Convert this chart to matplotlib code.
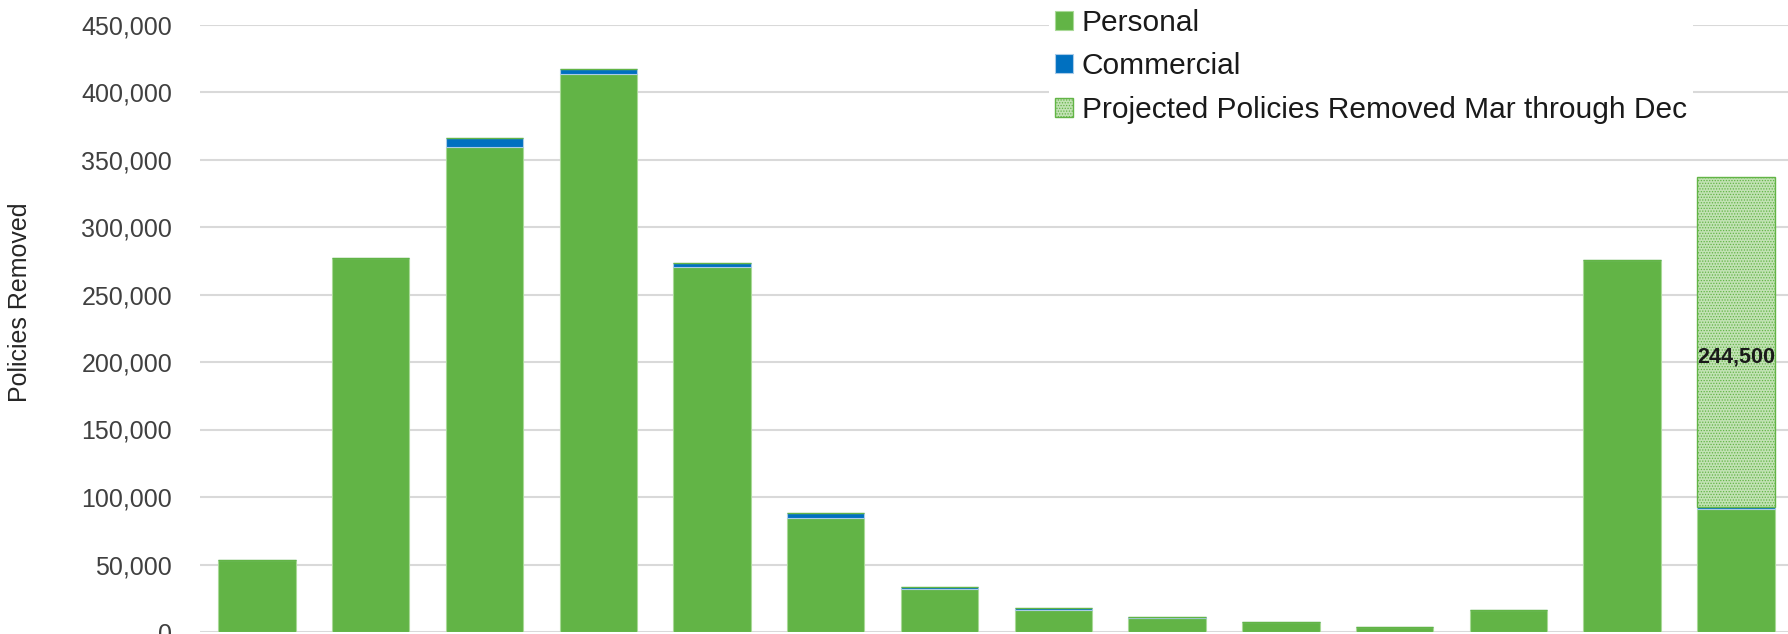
import matplotlib.pyplot as plt
import numpy as np
from matplotlib.ticker import FuncFormatter

plt.rcParams['font.family'] = ['Liberation Sans', 'DejaVu Sans']
plt.rcParams['hatch.linewidth'] = 0.6

# Values (x labels are cropped out of the reference)
personal = [53000, 276800, 359200, 413100, 270100, 84400, 32100, 16300,
            10400, 7200, 3600, 16300, 275500, 91000]
commercial = [300, 0, 6500, 4000, 3000, 4000, 1500, 1500,
              900, 200, 100, 100, 100, 1800]
projected = [0, 0, 0, 0, 0, 0, 0, 0, 0, 0, 0, 0, 0, 244500]
projected_label = "244,500"
label_y = 204000

GREEN = "#62b446"
BLUE = "#0070c0"
LIGHT = "#c2e2b4"

x = np.arange(len(personal))
personal = np.array(personal)
commercial = np.array(commercial)
projected = np.array(projected)

fig = plt.figure(figsize=(17.88, 6.34), dpi=100)
ax = fig.add_axes([200 / 1788, 2 / 634, 1592.8 / 1788, 607.5 / 634])

w = 0.68
ax.bar(x, personal, w, color=GREEN, edgecolor="#a9d997", linewidth=0.8,
       label="Personal", zorder=3)
ax.bar(x, commercial, w, bottom=personal, color=BLUE, edgecolor="#a9cbe8",
       linewidth=0.8, label="Commercial", zorder=3)
ax.bar(x, projected, w, bottom=personal + commercial, facecolor=LIGHT,
       edgecolor=GREEN, hatch="......", linewidth=1.0,
       label="Projected Policies Removed Mar through Dec", zorder=3)

last = int(np.argmax(projected))
ax.text(x[last], label_y, projected_label, ha="center", va="center",
        fontsize=15.5, fontweight="bold", color="#1a1a1a", zorder=5)

ax.set_xlim(-0.5, len(x) - 0.5)
ax.set_ylim(0, 450000)
ax.set_yticks(np.arange(0, 450001, 50000))
ax.yaxis.set_major_formatter(FuncFormatter(lambda v, p: f"{int(v):,}"))
ax.set_xticks([])
ax.tick_params(axis="y", length=0, pad=20, labelsize=18, labelcolor="#404040")
ax.grid(axis="y", color="#d9d9d9", linewidth=1.5, zorder=0)
for s in ax.spines.values():
    s.set_visible(False)
ax.set_ylabel("Policies Removed", fontsize=18, color="#262626")
ax.yaxis.set_label_coords(-0.1055, 0.543)

leg = fig.legend(loc="upper left", bbox_to_anchor=(1034 / 1788, 1.0 + 12 / 634),
                 fontsize=21.5, frameon=True, handlelength=0.6, handleheight=0.6,
                 handletextpad=0.3, labelspacing=0.52, borderpad=0.2)
leg.get_frame().set_facecolor("white")
leg.get_frame().set_edgecolor("none")
leg.get_frame().set_alpha(1)
for t in leg.get_texts():
    t.set_color("#1a1a1a")

fig.savefig("out.png", dpi=100)
